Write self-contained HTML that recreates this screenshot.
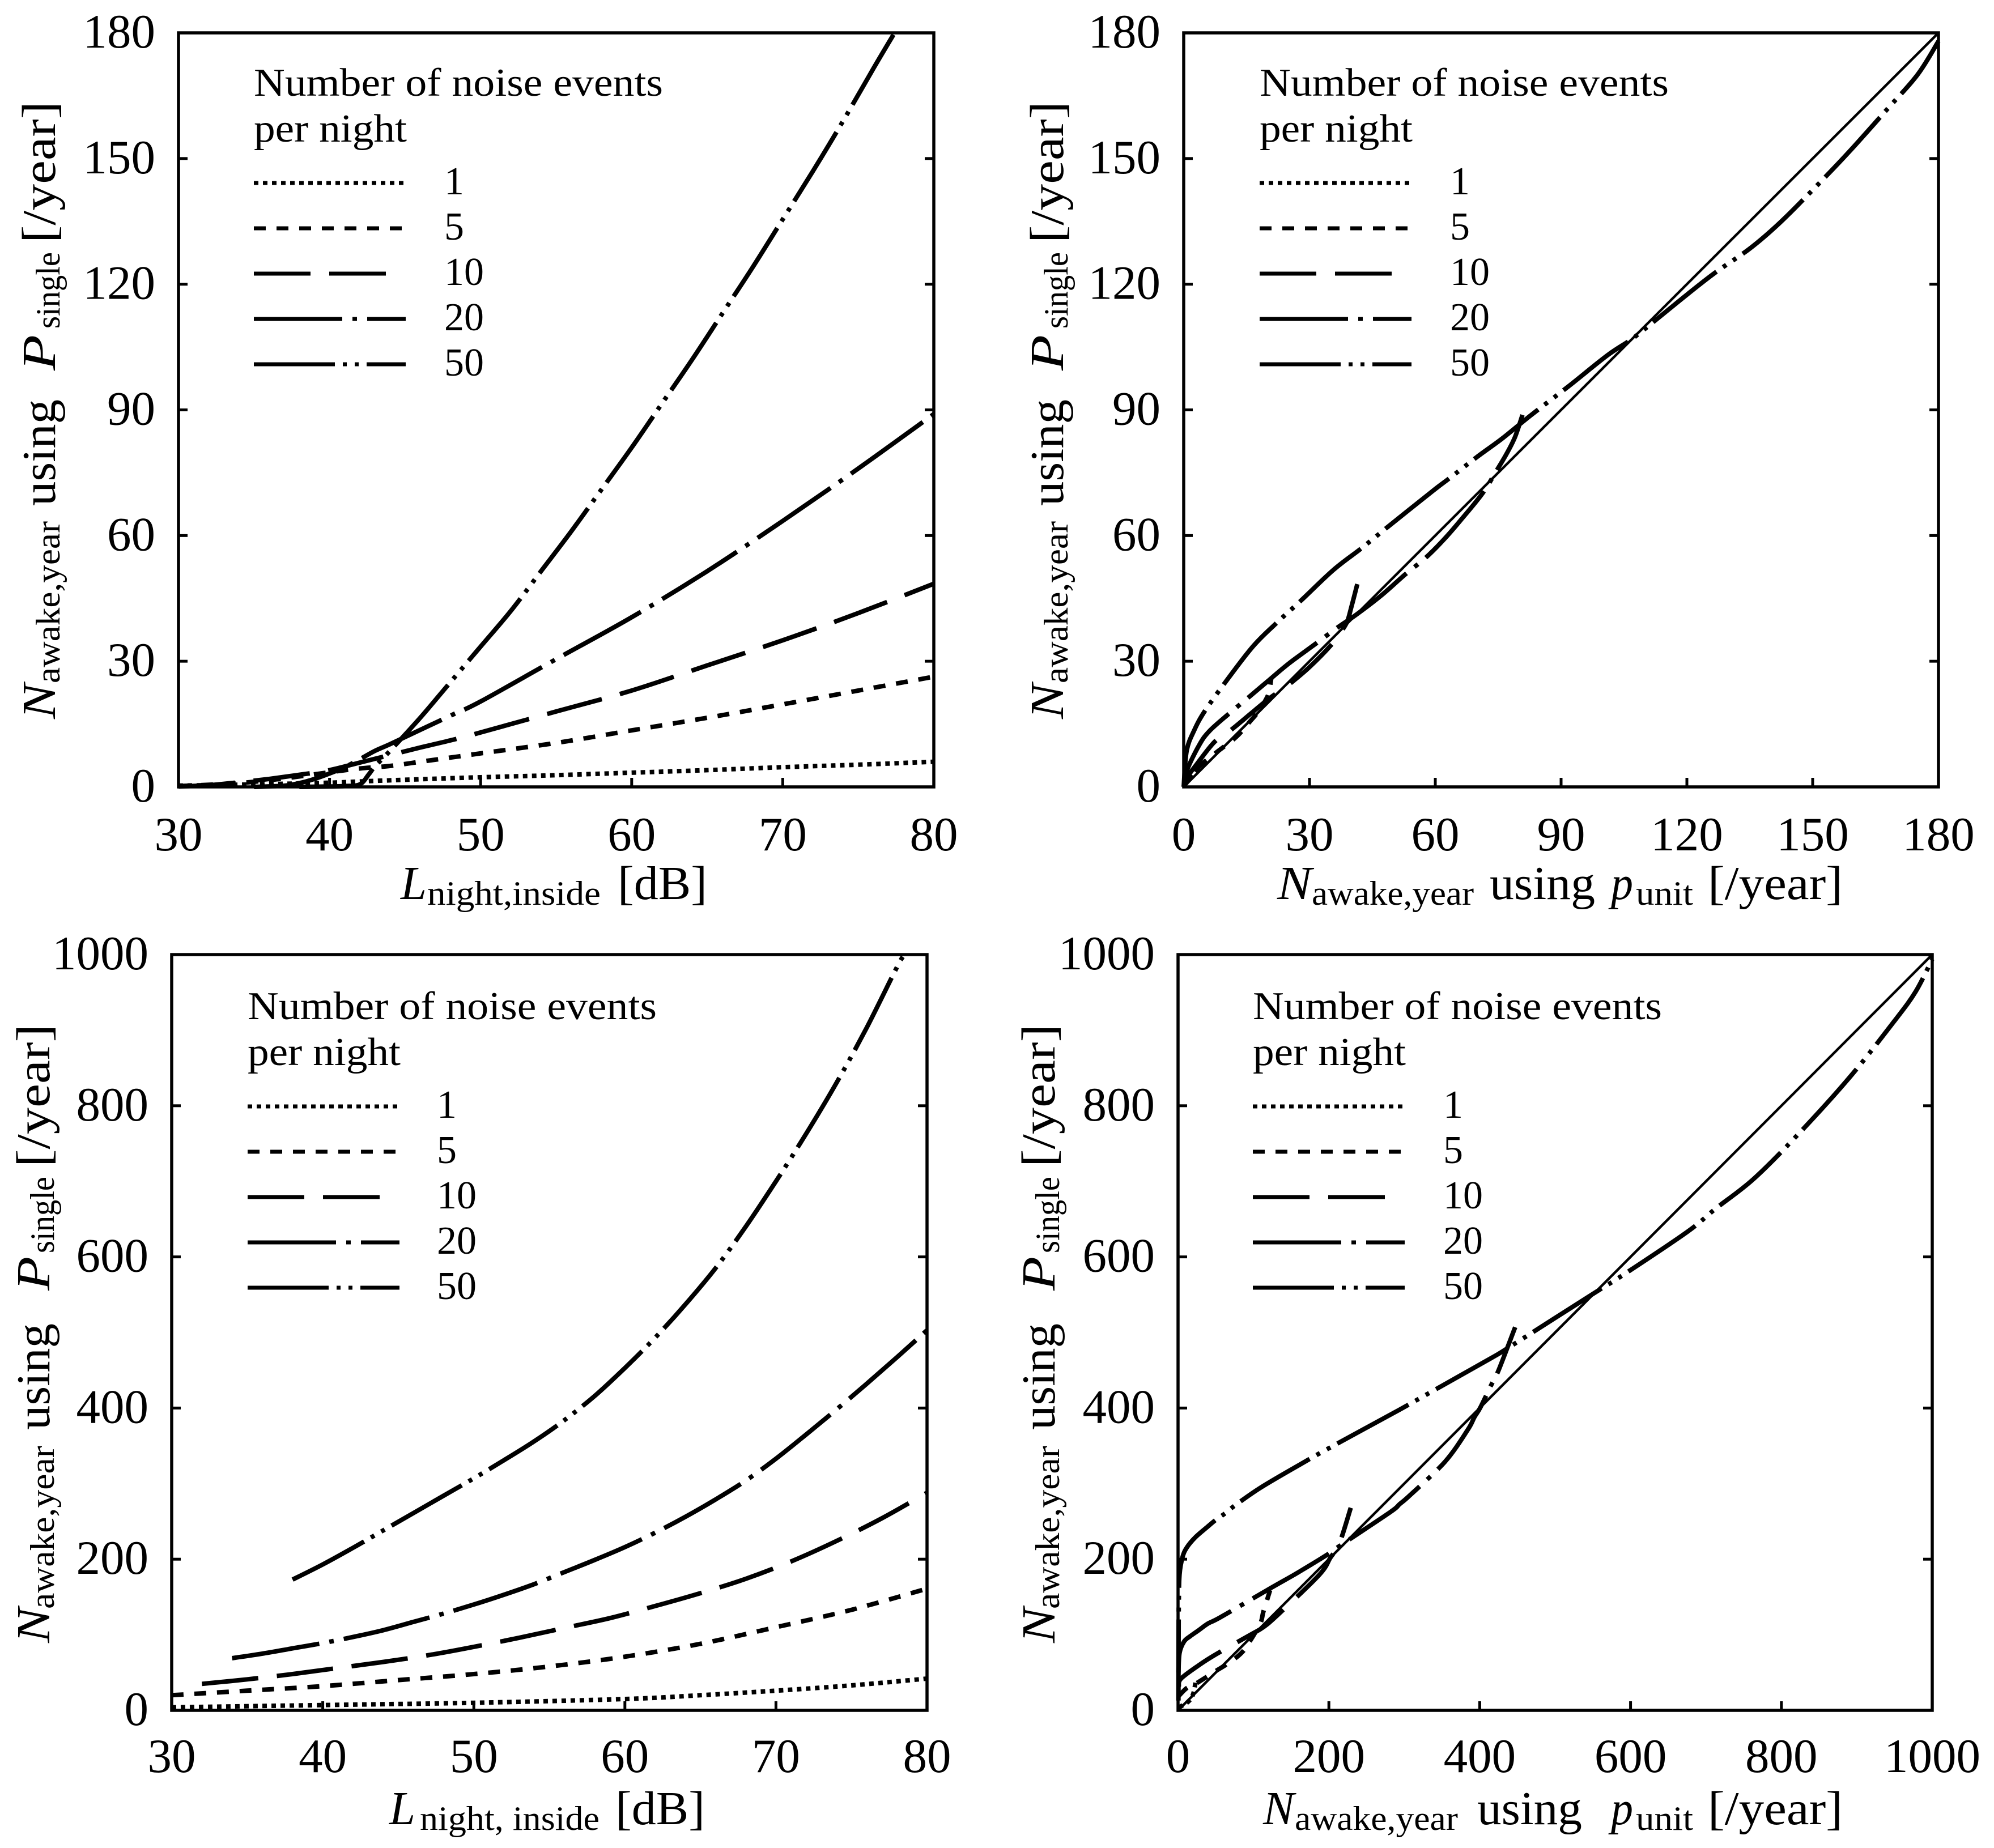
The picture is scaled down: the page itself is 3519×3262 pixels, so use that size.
<!DOCTYPE html>
<html lang="en">
<head>
<meta charset="utf-8">
<title>Noise event awakenings charts</title>
<style>
html,body{margin:0;padding:0;background:#fff}
svg{display:block}
text{font-family:"Liberation Serif",serif;fill:#000}
.tick{font-size:85px}
.ax{font-size:84px}
.sub{font-size:60px}
.lg{font-size:70px}
.it{font-style:italic}
.s{fill:none;stroke:#000;stroke-width:7}
</style>
</head>
<body>
<svg id="chart" xmlns="http://www.w3.org/2000/svg" width="3519" height="3262" viewBox="0 0 3519 3262">
<rect width="3519" height="3262" fill="#fff"/>

<!-- Panel A titles and legend -->
<g>
<text class="ax it" x="707" y="1587" textLength="46" lengthAdjust="spacingAndGlyphs">L</text>
<text class="sub" x="754" y="1597" textLength="306" lengthAdjust="spacingAndGlyphs">night,inside</text>
<text class="ax" x="1090" y="1587" textLength="158" lengthAdjust="spacingAndGlyphs">[dB]</text>
</g>
<g>
<text class="ax it" transform="translate(97,1269) rotate(-90)" textLength="62" lengthAdjust="spacingAndGlyphs">N</text>
<text class="sub" transform="translate(105,1206) rotate(-90)" textLength="286" lengthAdjust="spacingAndGlyphs">awake,year</text>
<text class="ax" transform="translate(97,893) rotate(-90)" textLength="188" lengthAdjust="spacingAndGlyphs">using</text>
<text class="ax it" transform="translate(97,654) rotate(-90)" textLength="63" lengthAdjust="spacingAndGlyphs">P</text>
<text class="sub" transform="translate(105,580) rotate(-90)" textLength="135" lengthAdjust="spacingAndGlyphs">single</text>
<text class="ax" transform="translate(97,429) rotate(-90)" textLength="250" lengthAdjust="spacingAndGlyphs">[/year]</text>
</g>
<g>
<text class="lg" x="448" y="169" textLength="722" lengthAdjust="spacingAndGlyphs">Number of noise events</text>
<text class="lg" x="448" y="250" textLength="270" lengthAdjust="spacingAndGlyphs">per night</text>
<line class="s" x1="448" y1="323" x2="713" y2="323" stroke-dasharray="8 8"/>
<text class="lg" x="784" y="343">1</text>
<line class="s" x1="448" y1="403" x2="710" y2="403" stroke-dasharray="21 19"/>
<text class="lg" x="784" y="423">5</text>
<line class="s" x1="448" y1="483" x2="682" y2="483" stroke-dasharray="100 33"/>
<text class="lg" x="784" y="503">10</text>
<line class="s" x1="448" y1="563" x2="716" y2="563" stroke-dasharray="156 18 8 18"/>
<text class="lg" x="784" y="583">20</text>
<line class="s" x1="448" y1="643" x2="716" y2="643" stroke-dasharray="143 14 7 14 7 14"/>
<text class="lg" x="784" y="663">50</text>
</g>

<!-- Panel B titles and legend -->
<g>
<text class="ax it" x="2254" y="1587" textLength="61" lengthAdjust="spacingAndGlyphs">N</text>
<text class="sub" x="2315" y="1597" textLength="286" lengthAdjust="spacingAndGlyphs">awake,year</text>
<text class="ax" x="2629" y="1587" textLength="186" lengthAdjust="spacingAndGlyphs">using</text>
<text class="ax it" x="2843" y="1587" textLength="39" lengthAdjust="spacingAndGlyphs">p</text>
<text class="sub" x="2887" y="1597" textLength="101" lengthAdjust="spacingAndGlyphs">unit</text>
<text class="ax" x="3014" y="1587" textLength="238" lengthAdjust="spacingAndGlyphs">[/year]</text>
</g>
<g>
<text class="ax it" transform="translate(1876,1269) rotate(-90)" textLength="62" lengthAdjust="spacingAndGlyphs">N</text>
<text class="sub" transform="translate(1884,1206) rotate(-90)" textLength="286" lengthAdjust="spacingAndGlyphs">awake,year</text>
<text class="ax" transform="translate(1876,893) rotate(-90)" textLength="188" lengthAdjust="spacingAndGlyphs">using</text>
<text class="ax it" transform="translate(1876,654) rotate(-90)" textLength="63" lengthAdjust="spacingAndGlyphs">P</text>
<text class="sub" transform="translate(1884,580) rotate(-90)" textLength="135" lengthAdjust="spacingAndGlyphs">single</text>
<text class="ax" transform="translate(1876,429) rotate(-90)" textLength="250" lengthAdjust="spacingAndGlyphs">[/year]</text>
</g>
<g>
<text class="lg" x="2223" y="169" textLength="722" lengthAdjust="spacingAndGlyphs">Number of noise events</text>
<text class="lg" x="2223" y="250" textLength="270" lengthAdjust="spacingAndGlyphs">per night</text>
<line class="s" x1="2223" y1="323" x2="2488" y2="323" stroke-dasharray="8 8"/>
<text class="lg" x="2559" y="343">1</text>
<line class="s" x1="2223" y1="403" x2="2485" y2="403" stroke-dasharray="21 19"/>
<text class="lg" x="2559" y="423">5</text>
<line class="s" x1="2223" y1="483" x2="2457" y2="483" stroke-dasharray="100 33"/>
<text class="lg" x="2559" y="503">10</text>
<line class="s" x1="2223" y1="563" x2="2491" y2="563" stroke-dasharray="156 18 8 18"/>
<text class="lg" x="2559" y="583">20</text>
<line class="s" x1="2223" y1="643" x2="2491" y2="643" stroke-dasharray="143 14 7 14 7 14"/>
<text class="lg" x="2559" y="663">50</text>
</g>

<!-- Panel C titles and legend -->
<g>
<text class="ax it" x="687" y="3220" textLength="46" lengthAdjust="spacingAndGlyphs">L</text>
<text class="sub" x="741" y="3230" textLength="317" lengthAdjust="spacingAndGlyphs">night, inside</text>
<text class="ax" x="1086" y="3220" textLength="158" lengthAdjust="spacingAndGlyphs">[dB]</text>
</g>
<g>
<text class="ax it" transform="translate(87,2900) rotate(-90)" textLength="62" lengthAdjust="spacingAndGlyphs">N</text>
<text class="sub" transform="translate(95,2840) rotate(-90)" textLength="288" lengthAdjust="spacingAndGlyphs">awake,year</text>
<text class="ax" transform="translate(87,2524) rotate(-90)" textLength="188" lengthAdjust="spacingAndGlyphs">using</text>
<text class="ax it" transform="translate(87,2278) rotate(-90)" textLength="60" lengthAdjust="spacingAndGlyphs">P</text>
<text class="sub" transform="translate(95,2212) rotate(-90)" textLength="135" lengthAdjust="spacingAndGlyphs">single</text>
<text class="ax" transform="translate(87,2060) rotate(-90)" textLength="252" lengthAdjust="spacingAndGlyphs">[/year]</text>
</g>
<g>
<text class="lg" x="437" y="1799" textLength="722" lengthAdjust="spacingAndGlyphs">Number of noise events</text>
<text class="lg" x="437" y="1880" textLength="270" lengthAdjust="spacingAndGlyphs">per night</text>
<line class="s" x1="437" y1="1953" x2="702" y2="1953" stroke-dasharray="8 8"/>
<text class="lg" x="771" y="1973">1</text>
<line class="s" x1="437" y1="2033" x2="699" y2="2033" stroke-dasharray="21 19"/>
<text class="lg" x="771" y="2053">5</text>
<line class="s" x1="437" y1="2113" x2="671" y2="2113" stroke-dasharray="100 33"/>
<text class="lg" x="771" y="2133">10</text>
<line class="s" x1="437" y1="2193" x2="705" y2="2193" stroke-dasharray="156 18 8 18"/>
<text class="lg" x="771" y="2213">20</text>
<line class="s" x1="437" y1="2273" x2="705" y2="2273" stroke-dasharray="143 14 7 14 7 14"/>
<text class="lg" x="771" y="2293">50</text>
</g>

<!-- Panel D titles and legend -->
<g>
<text class="ax it" x="2229" y="3220" textLength="55" lengthAdjust="spacingAndGlyphs">N</text>
<text class="sub" x="2285" y="3230" textLength="288" lengthAdjust="spacingAndGlyphs">awake,year</text>
<text class="ax" x="2607" y="3220" textLength="185" lengthAdjust="spacingAndGlyphs">using</text>
<text class="ax it" x="2843" y="3220" textLength="39" lengthAdjust="spacingAndGlyphs">p</text>
<text class="sub" x="2887" y="3230" textLength="101" lengthAdjust="spacingAndGlyphs">unit</text>
<text class="ax" x="3014" y="3220" textLength="238" lengthAdjust="spacingAndGlyphs">[/year]</text>
</g>
<g>
<text class="ax it" transform="translate(1861,2900) rotate(-90)" textLength="62" lengthAdjust="spacingAndGlyphs">N</text>
<text class="sub" transform="translate(1869,2840) rotate(-90)" textLength="288" lengthAdjust="spacingAndGlyphs">awake,year</text>
<text class="ax" transform="translate(1861,2524) rotate(-90)" textLength="188" lengthAdjust="spacingAndGlyphs">using</text>
<text class="ax it" transform="translate(1861,2278) rotate(-90)" textLength="60" lengthAdjust="spacingAndGlyphs">P</text>
<text class="sub" transform="translate(1869,2212) rotate(-90)" textLength="135" lengthAdjust="spacingAndGlyphs">single</text>
<text class="ax" transform="translate(1861,2060) rotate(-90)" textLength="252" lengthAdjust="spacingAndGlyphs">[/year]</text>
</g>
<g>
<text class="lg" x="2211" y="1799" textLength="722" lengthAdjust="spacingAndGlyphs">Number of noise events</text>
<text class="lg" x="2211" y="1880" textLength="270" lengthAdjust="spacingAndGlyphs">per night</text>
<line class="s" x1="2211" y1="1953" x2="2476" y2="1953" stroke-dasharray="8 8"/>
<text class="lg" x="2547" y="1973">1</text>
<line class="s" x1="2211" y1="2033" x2="2473" y2="2033" stroke-dasharray="21 19"/>
<text class="lg" x="2547" y="2053">5</text>
<line class="s" x1="2211" y1="2113" x2="2445" y2="2113" stroke-dasharray="100 33"/>
<text class="lg" x="2547" y="2133">10</text>
<line class="s" x1="2211" y1="2193" x2="2479" y2="2193" stroke-dasharray="156 18 8 18"/>
<text class="lg" x="2547" y="2213">20</text>
<line class="s" x1="2211" y1="2273" x2="2479" y2="2273" stroke-dasharray="143 14 7 14 7 14"/>
<text class="lg" x="2547" y="2293">50</text>
</g>
</svg>

<script>
// Tick labels
const levelTicks = [30, 40, 50, 60, 70, 80];
const smallTicks = [0, 30, 60, 90, 120, 150, 180];
const largeTicks = [0, 200, 400, 600, 800, 1000];

// Panel A: level vs awakenings (small range)
const aLevel1 = [30, 35, 40, 42, 45, 50, 55, 60, 65, 70, 75, 80];
const aValue1 = [0.3, 0.6, 1.0, 1.3, 1.7, 2.3, 2.8, 3.4, 4.0, 4.7, 5.3, 6.0];
const aLevel5 = [30, 32, 34, 36, 38, 40, 42, 44, 46, 48, 50, 55, 60, 65, 70, 75, 80];
const aValue5 = [0.2, 0.5, 0.9, 1.6, 2.5, 3.5, 4.4, 5.0, 6.0, 7.0, 8.0, 10.5, 13.5, 16.5, 19.7, 23, 26.3];
const aLevel10 = [30, 32, 34, 36, 38, 40, 42, 44, 46, 48, 50, 55, 60, 65, 70, 75, 80];
const aValue10 = [0.1, 0.4, 1.1, 1.9, 2.9, 4.0, 5.8, 7.6, 9.4, 11.1, 13, 18, 23, 29, 35, 41.5, 48.5];
const aLevel20 = [35, 37, 38, 39, 40, 41, 42, 43, 44, 46, 48, 50, 55, 60, 65, 70, 75, 80];
const aValue20 = [0, 0.3, 0.9, 1.9, 3.2, 4.7, 6.6, 8.6, 10.2, 13.6, 17.0, 20.4, 30.5, 40.5, 51.5, 63.5, 76, 89];
const aLevel50 = [38, 40, 41, 42, 42.6, 43, 44, 46, 48, 50, 52, 54, 56, 58, 60, 62, 64, 66, 68, 70, 72, 74, 76, 77.4];
const aValue50 = [0, 0.1, 0.2, 0.6, 3, 4.9, 8.6, 16.5, 25, 33.5, 42, 51.5, 61, 71, 81, 91.5, 102, 113, 124, 135.5, 147, 159, 171.5, 180];

// Panel B: p_unit vs P_single (small range)
const bRef = [0, 180];
const bX1 = [0, 1, 2, 3, 4.5];
const bY1 = [0.3, 1.3, 2.5, 3.8, 6];
const bX5 = [0, 1.6, 3.7, 8, 12.5, 15.8, 18, 19.4, 20.3, 20.9];
const bY5 = [0.2, 2.2, 4.9, 8.4, 11.9, 15.6, 18.2, 20.5, 22.5, 26];
const bX10 = [0, 1, 2.8, 7.3, 11.3, 16, 20, 22.5, 25.4, 30, 35, 37.5, 39, 40, 41.4];
const bY10 = [0.1, 2.5, 5, 10.7, 13.6, 17.5, 20.8, 22.6, 24.7, 28.6, 33.7, 37, 39.5, 43, 48.4];
const bX20 = [0, 0.8, 3.7, 6.1, 10.7, 15.5, 20, 25, 31.5, 36.9, 41, 47, 52.8, 57.7, 62, 66, 71.2, 74.8, 77, 79, 80.8];
const bY20 = [0, 4, 10, 13.3, 17.4, 21.4, 25.2, 29.4, 34.2, 38.2, 41, 45.6, 50.7, 54.7, 59, 63.6, 70, 75.8, 79.5, 83.5, 88.8];
const bX50 = [0, 0.7, 2.5, 4.9, 9.8, 16.4, 22, 28.1, 35.7, 42.3, 48.6, 59.2, 63.4, 70, 76, 82.9, 92, 101, 107, 113, 120, 126.8, 135, 142, 150, 158.6, 167.7, 175, 180];
const bY50 = [0, 8.6, 13.5, 17.9, 24.8, 33.4, 39, 44.6, 51.8, 56.9, 62, 70.5, 73.7, 78.8, 83.2, 88.8, 95.8, 103, 107, 111.8, 117.5, 122.8, 128.5, 134.5, 142.5, 151.5, 161.7, 170, 178];

// Panel C: level vs awakenings (large range)
const cLevel1 = [30, 40, 50, 60, 65, 70, 75, 80];
const cValue1 = [4, 7, 10, 15, 20, 26, 33, 42];
const cLevel5 = [30, 35, 40, 45, 50, 55, 60, 65, 70, 75, 80];
const cValue5 = [20, 26, 32, 40, 48, 58, 71, 88, 110, 133, 161];
const cLevel10 = [32, 35, 38, 41, 44, 47, 50, 53, 56, 59, 62, 65, 68, 71, 74, 77, 80];
const cValue10 = [35, 41, 48, 56, 64, 73, 84, 96, 109, 122, 138, 155, 174, 197, 224, 254, 288];
const cLevel20 = [34, 36, 38, 40, 42, 44, 46, 48, 50, 52, 54, 56, 58, 60, 62, 64, 66, 68, 70, 72, 74, 76, 78, 80];
const cValue20 = [69, 75, 82, 89, 97, 106, 117, 128, 140, 153, 167, 183, 199, 216, 235, 256, 279, 304, 333, 365, 398, 432, 467, 503];
const cLevel50 = [38, 40, 42, 44, 46, 48, 50, 52, 54, 56, 58, 60, 62, 64, 66, 68, 70, 72, 74, 76, 78, 78.5];
const cValue50 = [173, 193, 215, 238, 261, 284, 307, 331, 356, 384, 416, 453, 493, 537, 585, 640, 700, 763, 830, 903, 983, 1000];

// Panel D: p_unit vs P_single (large range)
const dRef = [0, 1000];
const dX1 = [1, 5, 13, 18, 21, 24];
const dY1 = [4, 6, 11, 17, 25, 42];
const dX5 = [1, 11, 23, 36, 50, 63, 76, 86, 95, 103, 110, 113, 118, 122];
const dY5 = [19, 29, 35, 43, 52, 60, 69, 78, 91, 104, 117, 130, 146, 159];
const dX10 = [1, 4, 28, 50, 96, 113, 133, 187, 202, 214, 229];
const dY10 = [32, 42, 60, 74, 100, 110, 127, 179, 202, 221, 268];
const dX20 = [0.5, 2, 8, 16, 26, 40, 56, 118, 155, 170, 185, 204, 215, 281, 294, 308, 354, 384, 393, 401, 415, 425, 447];
const dY20 = [50, 76, 91, 98, 105, 115, 123, 159, 180, 189, 198, 210, 218, 262, 273, 285, 329, 371, 388, 401, 430, 450, 507];
const dX50 = [0.5, 0.7, 1, 2, 6, 12, 23, 38, 50, 63, 74, 110, 163, 202, 294, 335, 415, 443, 550, 590, 675, 713, 763, 822, 890, 949, 978, 1000];
const dY50 = [13, 76, 140, 180, 203, 216, 229, 242, 252, 261, 270, 295, 326, 348, 398, 421, 466, 483, 551, 576, 633, 664, 703, 762, 837, 911, 951, 994];

const dashes = { 1: '8 8', 5: '21 19', 10: '100 33', 20: '156 18 8 18', 50: '143 14 7 14 7 14' };

const svg = document.getElementById('chart');
const NS = 'http://www.w3.org/2000/svg';

function axisFn(d0, d1, r0, r1) {
  return function (v) { return r0 + (v - d0) / (d1 - d0) * (r1 - r0); };
}

function smoothPath(px, py) {
  let d = 'M' + px[0].toFixed(1) + ' ' + py[0].toFixed(1);
  for (let i = 0; i < px.length - 1; i++) {
    const a = Math.max(i - 1, 0), b = Math.min(i + 2, px.length - 1);
    const c1x = px[i] + (px[i + 1] - px[a]) / 6, c1y = py[i] + (py[i + 1] - py[a]) / 6;
    const c2x = px[i + 1] - (px[b] - px[i]) / 6, c2y = py[i + 1] - (py[b] - py[i]) / 6;
    d += 'C' + c1x.toFixed(1) + ' ' + c1y.toFixed(1) + ' ' + c2x.toFixed(1) + ' ' + c2y.toFixed(1) + ' ' + px[i + 1].toFixed(1) + ' ' + py[i + 1].toFixed(1);
  }
  return d;
}

function drawPanel(cfg) {
  const x = axisFn(cfg.xMin, cfg.xMax, cfg.left, cfg.right);
  const y = axisFn(cfg.yMin, cfg.yMax, cfg.bottom, cfg.top);
  const g = document.createElementNS(NS, 'g');
  
  
  svg.appendChild(g);

  cfg.series.forEach(function (s) {
    const p = document.createElementNS(NS, 'path');
    
    
    p.setAttribute('d', smoothPath(s.x.map(x), s.y.map(y)));
    p.setAttribute('fill', 'none');
    p.setAttribute('stroke', '#000');
    p.setAttribute('stroke-width', '8');
    p.setAttribute('stroke-dasharray', dashes[s.label]);
    g.appendChild(p);
  });

  if (cfg.ref) {
    const r = document.createElementNS(NS, 'line');
    
    
    r.setAttribute('x1', x(cfg.ref[0]));
    r.setAttribute('y1', y(cfg.ref[0]));
    r.setAttribute('x2', x(cfg.ref[1]));
    r.setAttribute('y2', y(cfg.ref[1]));
    r.setAttribute('stroke', '#000');
    r.setAttribute('stroke-width', '4.5');
    g.appendChild(r);
  }

  const frame = document.createElementNS(NS, 'rect');
  
  
  frame.setAttribute('x', cfg.left);
  frame.setAttribute('y', cfg.top);
  frame.setAttribute('width', cfg.right - cfg.left);
  frame.setAttribute('height', cfg.bottom - cfg.top);
  frame.setAttribute('fill', 'none');
  frame.setAttribute('stroke', '#000');
  frame.setAttribute('stroke-width', '5.5');
  g.appendChild(frame);

  cfg.xTicks.forEach(function (v) {
    const t = document.createElementNS(NS, 'line');
    
    
    t.setAttribute('x1', x(v));
    t.setAttribute('x2', x(v));
    t.setAttribute('y1', cfg.bottom);
    t.setAttribute('y2', cfg.bottom - 16);
    t.setAttribute('stroke', '#000');
    t.setAttribute('stroke-width', '5');
    g.appendChild(t);
    const l = document.createElementNS(NS, 'text');
    
    
    l.setAttribute('class', 'tick');
    l.setAttribute('x', x(v));
    l.setAttribute('y', cfg.bottom + cfg.xLabelGap);
    l.setAttribute('text-anchor', 'middle');
    l.textContent = v;
    g.appendChild(l);
  });

  cfg.yTicks.forEach(function (v) {
    [[cfg.left, cfg.left + 16], [cfg.right, cfg.right - 16]].forEach(function (e) {
      const t = document.createElementNS(NS, 'line');
      
      
      t.setAttribute('x1', e[0]);
      t.setAttribute('x2', e[1]);
      t.setAttribute('y1', y(v));
      t.setAttribute('y2', y(v));
      t.setAttribute('stroke', '#000');
      t.setAttribute('stroke-width', '5');
      g.appendChild(t);
    });
    const l = document.createElementNS(NS, 'text');
    
    
    l.setAttribute('class', 'tick');
    l.setAttribute('x', cfg.left - 41);
    l.setAttribute('y', y(v) + 26);
    l.setAttribute('text-anchor', 'end');
    l.textContent = v;
    g.appendChild(l);
  });
}

drawPanel({
  name: 'panel-a', left: 315, right: 1648, top: 58, bottom: 1389, xLabelGap: 112,
  xMin: 30, xMax: 80, yMin: 0, yMax: 180, xTicks: levelTicks, yTicks: smallTicks,
  series: [
    { label: 1, x: aLevel1, y: aValue1 },
    { label: 5, x: aLevel5, y: aValue5 },
    { label: 10, x: aLevel10, y: aValue10 },
    { label: 20, x: aLevel20, y: aValue20 },
    { label: 50, x: aLevel50, y: aValue50 }
  ]
});
drawPanel({
  name: 'panel-b', left: 2089, right: 3421, top: 58, bottom: 1389, xLabelGap: 112,
  xMin: 0, xMax: 180, yMin: 0, yMax: 180, xTicks: smallTicks, yTicks: smallTicks, ref: bRef,
  series: [
    { label: 1, x: bX1, y: bY1 },
    { label: 5, x: bX5, y: bY5 },
    { label: 10, x: bX10, y: bY10 },
    { label: 20, x: bX20, y: bY20 },
    { label: 50, x: bX50, y: bY50 }
  ]
});
drawPanel({
  name: 'panel-c', left: 303, right: 1636, top: 1685, bottom: 3019, xLabelGap: 109,
  xMin: 30, xMax: 80, yMin: 0, yMax: 1000, xTicks: levelTicks, yTicks: largeTicks,
  series: [
    { label: 1, x: cLevel1, y: cValue1 },
    { label: 5, x: cLevel5, y: cValue5 },
    { label: 10, x: cLevel10, y: cValue10 },
    { label: 20, x: cLevel20, y: cValue20 },
    { label: 50, x: cLevel50, y: cValue50 }
  ]
});
drawPanel({
  name: 'panel-d', left: 2079, right: 3410, top: 1685, bottom: 3019, xLabelGap: 109,
  xMin: 0, xMax: 1000, yMin: 0, yMax: 1000, xTicks: largeTicks, yTicks: largeTicks, ref: dRef,
  series: [
    { label: 1, x: dX1, y: dY1 },
    { label: 5, x: dX5, y: dY5 },
    { label: 10, x: dX10, y: dY10 },
    { label: 20, x: dX20, y: dY20 },
    { label: 50, x: dX50, y: dY50 }
  ]
});
</script>
</body>
</html>
